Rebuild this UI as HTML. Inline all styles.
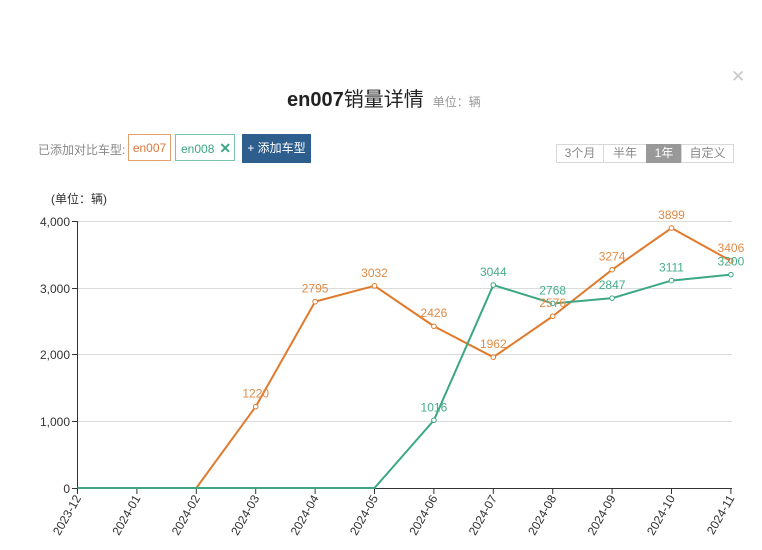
<!DOCTYPE html>
<html><head><meta charset="utf-8">
<style>
html,body{margin:0;padding:0;background:#fff;}
body{width:762px;height:550px;position:relative;overflow:hidden;font-family:"Liberation Sans","Noto Sans CJK SC",sans-serif;}
.abs{position:absolute;}
.title{left:287px;top:87px;font-size:20px;color:#222;white-space:nowrap;line-height:26px;}
.title b{font-weight:bold;}
.title span{font-size:12px;color:#999;margin-left:9px;}
.close{left:731px;top:67px;font-size:17px;color:#c8c8c8;line-height:20px;}
.lbl{left:38px;top:142px;font-size:12px;color:#888;line-height:16px;}
.chip{top:134px;height:27px;line-height:27px;font-size:12px;box-sizing:border-box;background:#fff;}
.c1{left:128px;width:43px;border:1px solid #e0a070;color:#d8783a;text-align:center;}
.c2{left:175px;width:60px;border:1px solid #7cc5ab;color:#3aa783;padding-left:5px;}
.c2 i{font-style:normal;font-weight:bold;font-size:14px;margin-left:5px;color:#3aa783;}
.btn{left:242px;top:134px;width:69px;height:29px;background:#2d5e8e;color:#fff;font-size:12px;line-height:29px;text-align:center;}
.seg{top:144px;height:19px;box-sizing:border-box;border:1px solid #d8d8d8;font-size:12px;color:#888;line-height:17px;text-align:center;background:#fff;}
</style></head><body>
<div class="abs title"><b>en007</b>销量详情<span>单位：辆</span></div>
<div class="abs close">✕</div>
<div class="abs lbl">已添加对比车型:</div>
<div class="abs chip c1">en007</div>
<div class="abs chip c2">en008<i>✕</i></div>
<div class="abs btn">+ 添加车型</div>
<div class="abs seg" style="left:556px;width:48px;">3个月</div>
<div class="abs seg" style="left:603px;width:44px;">半年</div>
<div class="abs seg" style="left:646px;width:36px;background:#999;color:#fff;border-color:#999;">1年</div>
<div class="abs seg" style="left:681px;width:53px;">自定义</div>

<svg class="abs" style="left:0;top:0" width="762" height="550" xmlns="http://www.w3.org/2000/svg" font-family="Liberation Sans, Noto Sans CJK SC, sans-serif">
<text x="51" y="203" font-size="12" fill="#333">(单位：辆)</text>
<g stroke="#dcdcdc" stroke-width="1">
<line x1="78" y1="221.5" x2="732" y2="221.5"/>
<line x1="78" y1="288.5" x2="732" y2="288.5"/>
<line x1="78" y1="354.5" x2="732" y2="354.5"/>
<line x1="78" y1="421.5" x2="732" y2="421.5"/>
</g>
<g stroke="#333" stroke-width="1">
<line x1="77.5" y1="221" x2="77.5" y2="488"/>
<line x1="72" y1="221.5" x2="77.5" y2="221.5"/>
<line x1="72" y1="288.5" x2="77.5" y2="288.5"/>
<line x1="72" y1="354.5" x2="77.5" y2="354.5"/>
<line x1="72" y1="421.5" x2="77.5" y2="421.5"/>
<line x1="72" y1="488.5" x2="77.5" y2="488.5"/>
<line x1="77" y1="488.5" x2="732" y2="488.5"/>
</g>
<g stroke="#333" stroke-width="1" id="xt"></g>
<g font-size="12" fill="#333" text-anchor="end">
<text x="70" y="226">4,000</text>
<text x="70" y="293">3,000</text>
<text x="70" y="359">2,000</text>
<text x="70" y="426">1,000</text>
<text x="70" y="493">0</text>
</g>
<g id="xl" font-size="12" fill="#333" text-anchor="end"></g>
<g id="series"></g>
</svg>
<script>
(function(){
var ns="http://www.w3.org/2000/svg";
function el(t,a,p,txt){var e=document.createElementNS(ns,t);for(var k in a)e.setAttribute(k,a[k]);if(txt!=null)e.textContent=txt;p.appendChild(e);return e;}
var labels=["2023-12","2024-01","2024-02","2024-03","2024-04","2024-05","2024-06","2024-07","2024-08","2024-09","2024-10","2024-11"];
var xt=document.getElementById("xt"),xl=document.getElementById("xl"),s=document.getElementById("series");
function X(i){return 77.5+59.4*i;}
function Y(v){return 488-v*0.066675;}
for(var i=0;i<12;i++){
 var x=X(i);
 el("line",{x1:x,y1:488,x2:x,y2:494},xt);
 el("text",{transform:"translate("+(x+4)+",498) rotate(-60)",x:0,y:0},xl,labels[i]);
}
var A=[0,0,0,1220,2795,3032,2426,1962,2576,3274,3899,3406];
var B=[0,0,0,0,0,0,1016,3044,2768,2847,3111,3200];
function draw(d,c,lc){
 var pts=d.map(function(v,i){return X(i)+","+Y(v);}).join(" ");
 el("polyline",{points:pts,fill:"none",stroke:c,"stroke-width":2,"stroke-linejoin":"round"},s);
 d.forEach(function(v,i){
  if(v>0){
   el("circle",{cx:X(i),cy:Y(v),r:2.3,fill:"#fff",stroke:c,"stroke-width":1},s);
  }
 });
}
function lab(d,c){
 d.forEach(function(v,i){
  if(v>0){el("text",{x:X(i),y:Y(v)-9,"text-anchor":"middle","font-size":12,fill:c},s,String(v));}
 });
}
draw(A,"#e07a2c");
draw(B,"#3ba883");
lab(A,"#e08a45");
lab(B,"#45ad8a");
})();
</script>
</body></html>
